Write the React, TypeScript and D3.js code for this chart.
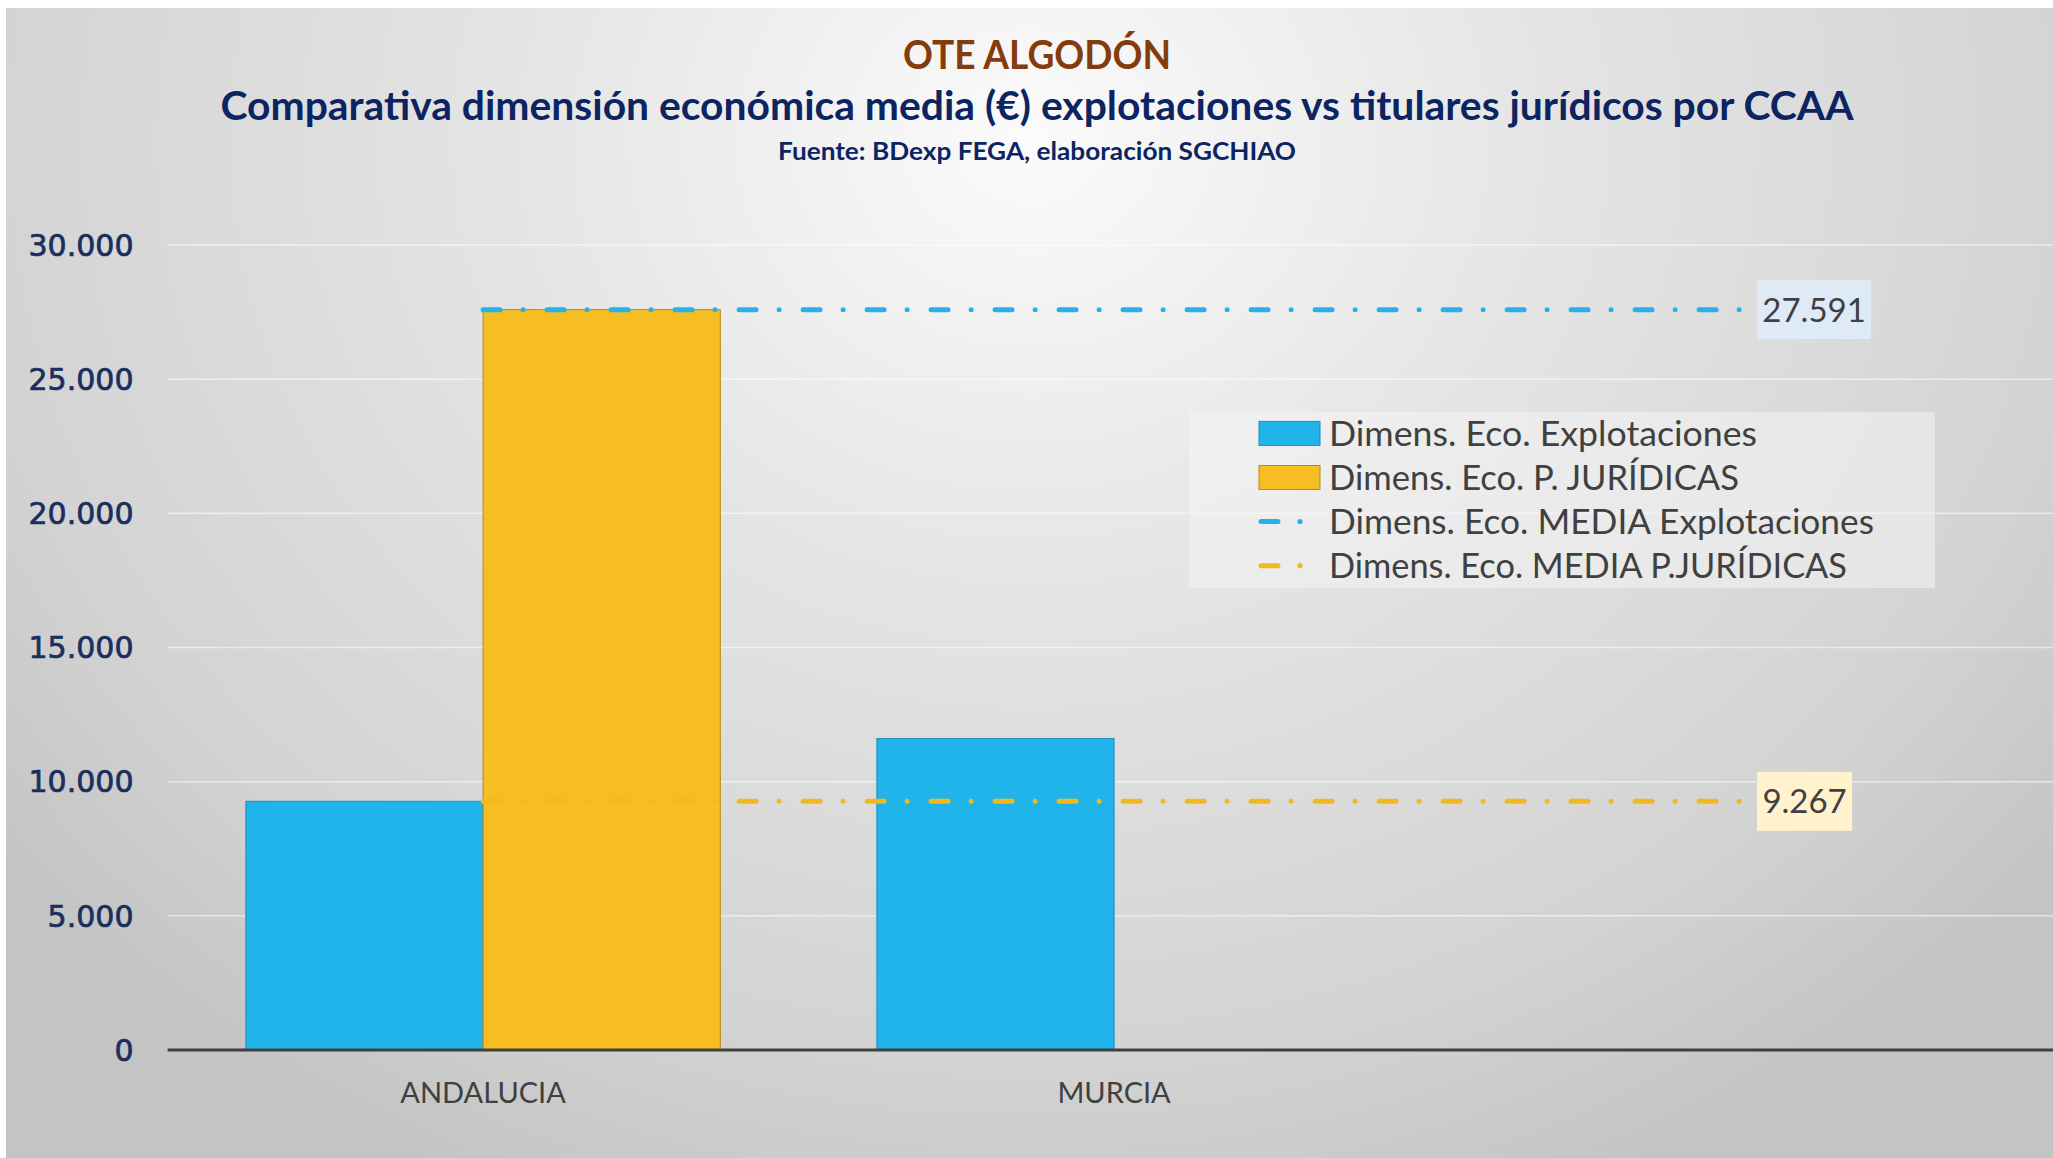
import React from 'react';
import * as d3 from 'd3';

// ---------- data ----------
const categories = ['ANDALUCIA', 'MURCIA', ''];
const explotaciones: (number | null)[] = [9267, 11610, null];
const juridicas: (number | null)[] = [27591, null, null];
const mediaExplotaciones = [27591, 27591, 27591];
const mediaJuridicas = [9267, 9267, 9267];
const yTicks = [0, 5000, 10000, 15000, 20000, 25000, 30000];
const legendLabels = [
  'Dimens. Eco. Explotaciones',
  'Dimens. Eco. P. JURÍDICAS',
  'Dimens. Eco. MEDIA Explotaciones',
  'Dimens. Eco. MEDIA P.JURÍDICAS',
];
const legendWidths = [428, 410, 545, 518];
const title = 'OTE ALGODÓN';
const subtitle = 'Comparativa dimensión económica media (€) explotaciones vs titulares jurídicos por CCAA';
const source = 'Fuente: BDexp FEGA, elaboración  SGCHIAO';

// ---------- styles ----------
const BLUE = '#21b4ea';
const BLUE_EDGE = '#1b8fbd';
const YELLOW = '#f6be22';
const YELLOW_EDGE = '#b38a1c';
const NAVY = '#0c2461';
const GRAY = '#404040';
const FONT = 'Lato, "Open Sans", sans-serif';

const W = 2053;
const H = 1158;

const loc = d3.formatLocale({ decimal: ',', thousands: '.', grouping: [3], currency: ['', '€'] });
const fmt = loc.format(',d');

export default function App() {
  const x = d3.scaleBand<string>().domain(categories).range([167.6, 167.6 + 631 * 3]).padding(0);
  const series = ['exp', 'jur'];
  const xs = d3.scaleBand<string>().domain(series).range([0, x.bandwidth()]).paddingInner(0).paddingOuter(0.33);
  const y = d3.scaleLinear().domain([0, 30000]).range([1050, 245]);

  const barSets = [
    { key: 'exp', values: explotaciones, fill: BLUE, edge: BLUE_EDGE },
    { key: 'jur', values: juridicas, fill: YELLOW, edge: YELLOW_EDGE },
  ];
  const meanSets = [
    { values: mediaExplotaciones, color: BLUE, box: '#deeaf6', boxW: 114 },
    { values: mediaJuridicas, color: '#f3b91c', box: '#fff2cc', boxW: 95 },
  ];
  const line = d3
    .line<number>()
    .x((_, i) => (x(categories[i]) as number) + x.bandwidth() / 2)
    .y((d) => y(d));

  const dash = '17 23 0 24';
  const lastX = (x(categories[categories.length - 1]) as number) + x.bandwidth() / 2;

  return (
    <svg width={W} height={H} style={{ position: 'absolute', left: 0, top: 0, display: 'block' }}>
      <defs>
        <radialGradient id="bg" gradientUnits="userSpaceOnUse" cx={1030} cy={140} r={1150}
          gradientTransform="translate(1030 140) scale(1.15 1) translate(-1030 -140)">
          <stop offset="0" stopColor="#fbfbfb" />
          <stop offset="0.4" stopColor="#e4e4e4" />
          <stop offset="0.8" stopColor="#d3d3d3" />
          <stop offset="1" stopColor="#c4c4c4" />
        </radialGradient>
      </defs>
      <rect x={0} y={0} width={W} height={H} fill="#ffffff" />
      <rect x={6} y={8} width={W - 6} height={H - 8} fill="url(#bg)" />

      {/* titles */}
      <text x={1037} y={69} textAnchor="middle" fontFamily={FONT} fontWeight={700} fontSize={41} fill="#843c0c"
        textLength={268} lengthAdjust="spacingAndGlyphs">{title}</text>
      <text x={1037} y={120} textAnchor="middle" fontFamily={FONT} fontWeight={700} fontSize={40} fill={NAVY}
        textLength={1633} lengthAdjust="spacingAndGlyphs">{subtitle}</text>
      <text x={1037} y={160} textAnchor="middle" fontFamily={FONT} fontWeight={700} fontSize={25} fill={NAVY}
        textLength={518} lengthAdjust="spacingAndGlyphs">{source}</text>

      {/* gridlines */}
      {yTicks.slice(1).map((t) => (
        <line key={t} x1={167.6} x2={W} y1={y(t)} y2={y(t)} stroke="#ffffff" strokeOpacity={0.55} strokeWidth={1.5} />
      ))}

      {/* y tick labels */}
      {yTicks.map((t) => (
        <text key={t} x={133.5} y={y(t)} dy="0.36em" textAnchor="end" fontFamily='"DejaVu Sans", sans-serif'
          fontSize={30} fill="#1a2f5e" stroke="#1a2f5e" strokeWidth={0.7}>{fmt(t)}</text>
      ))}

      {/* bars */}
      {barSets.map((s) =>
        s.values.map((v, i) =>
          v == null ? null : (
            <rect key={s.key + i} x={(x(categories[i]) as number) + (xs(s.key) as number)} y={y(v)}
              width={xs.bandwidth()} height={y(0) - y(v)} fill={s.fill} stroke={s.edge} strokeWidth={1} />
          )
        )
      )}

      {/* mean lines */}
      {meanSets.map((m, k) => (
        <g key={k}>
          <path d={line(m.values) as string} fill="none" stroke={m.color} strokeWidth={5} strokeLinecap="round"
            strokeDasharray={dash} />
          <rect x={lastX + 12} y={y(m.values[m.values.length - 1]) - 29.5} width={m.boxW} height={59} fill={m.box} />
          <text x={lastX + 12 + m.boxW / 2} y={y(m.values[m.values.length - 1])} dy="0.36em" textAnchor="middle"
            fontFamily={FONT} fontSize={33} fill={GRAY}>{fmt(m.values[m.values.length - 1])}</text>
        </g>
      ))}

      {/* x axis */}
      <line x1={167.6} x2={W} y1={y(0)} y2={y(0)} stroke={GRAY} strokeWidth={3} />
      {categories.map((c) => (
        <text key={c || 'blank'} x={(x(c) as number) + x.bandwidth() / 2} y={1103} textAnchor="middle"
          fontFamily={FONT} fontSize={29} fill={GRAY}>{c}</text>
      ))}

      {/* legend */}
      <g>
        <rect x={1189} y={412} width={746} height={176} fill="#f4f4f4" fillOpacity={0.55} />
        {legendLabels.map((lbl, i) => {
          const cy = 433.4 + i * 44.1;
          return (
            <g key={lbl}>
              {i < 2 ? (
                <rect x={1259} y={cy - 12} width={61} height={24} fill={barSets[i].fill} stroke={barSets[i].edge} strokeWidth={1} />
              ) : (
                <g>
                  <line x1={1261} x2={1278} y1={cy} y2={cy} stroke={meanSets[i - 2].color} strokeWidth={5} strokeLinecap="round" />
                  <circle cx={1300} cy={cy} r={2.6} fill={meanSets[i - 2].color} />
                </g>
              )}
              <text x={1329} y={cy} dy="0.36em" fontFamily={FONT} fontSize={34} fill={GRAY}
                textLength={legendWidths[i]} lengthAdjust="spacingAndGlyphs">{lbl}</text>
            </g>
          );
        })}
      </g>
    </svg>
  );
}
